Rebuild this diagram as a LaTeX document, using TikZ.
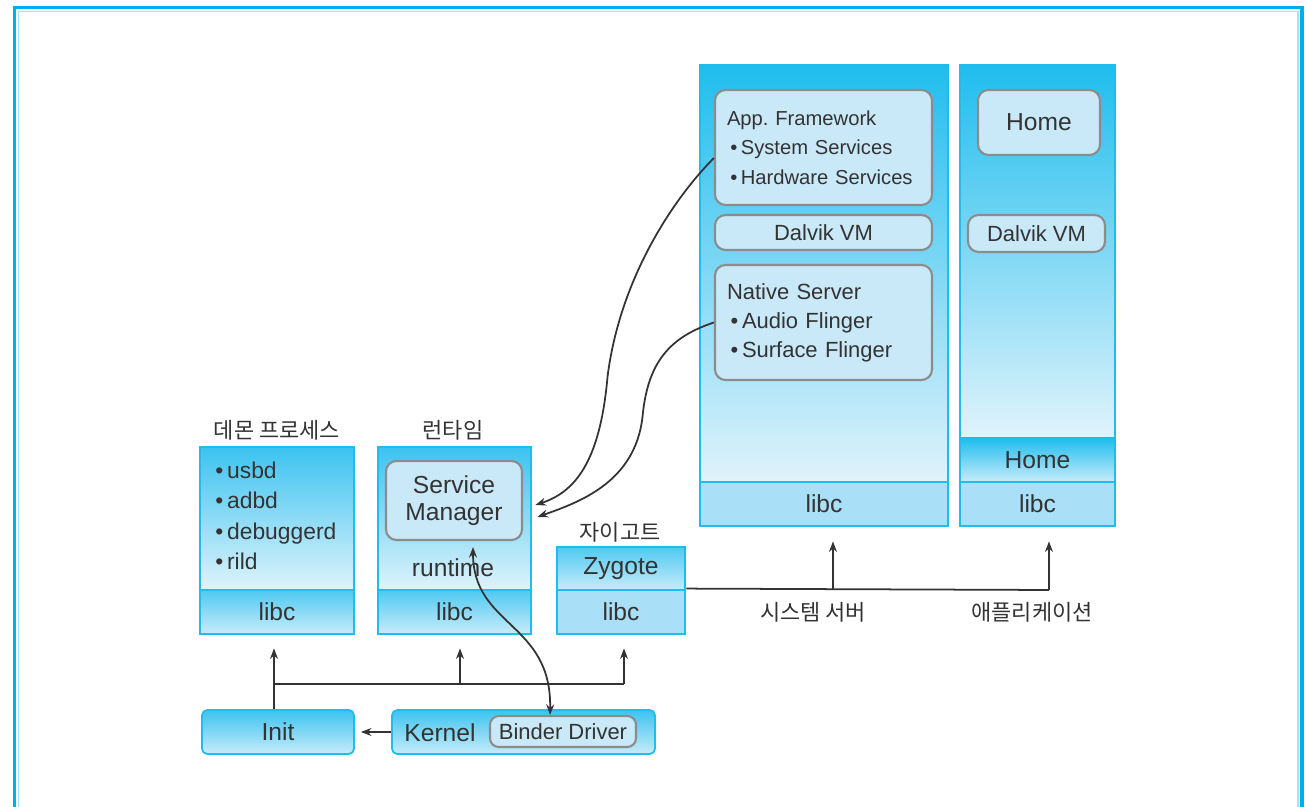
\documentclass[tikz,border=0pt]{standalone}
\usepackage{fontspec}
\setmainfont{Liberation Sans}
\newfontfamily\kr{Noto Sans CJK KR}
\usetikzlibrary{arrows.meta, positioning, calc}
\definecolor{c1}{HTML}{333333}
\definecolor{c2}{HTML}{00AEEF}
\definecolor{c3}{HTML}{1FBDEE}
\definecolor{c4}{HTML}{3CC3F0}
\definecolor{c5}{HTML}{E0F3FB}
\definecolor{c6}{HTML}{A9DFF7}
\definecolor{c7}{HTML}{C9E9F8}
\definecolor{c8}{HTML}{8C8C8C}

\begin{document}
\begin{tikzpicture}[
    every node/.style={font=\fontsize{14}{16}\selectfont, text=c1},
    lab/.style={font=\kr\fontsize{12.5}{14}\selectfont, text=c1},
    edge/.style={rectangle, draw=c3, line width=1.6pt, inner sep=0pt},
    tier/.style={edge, top color=c4, bottom color=c5},
    band/.style={edge, top color=c4!90, bottom color=c5!85!c4},
    flat/.style={edge, fill=c6},
    inbox/.style={rectangle, rounded corners=6pt, draw=c8, line width=1.2pt,
                  fill=c7, inner sep=0pt},
    kbox/.style={rectangle, rounded corners=3pt, draw=c3, line width=1pt,
                 top color=c4, bottom color=c5!85!c4, inner sep=0pt},
    arr/.style={-{Stealth[length=6pt, width=4.5pt]}, line width=1pt, color=c1},
    wire/.style={line width=1pt, color=c1},
]
\useasboundingbox (0,0) rectangle (26.14,16.14);

% outer frame, open at the bottom
\draw[c2, line width=2pt] (0.29,-1) -- (0.29,15.99) -- (26.04,15.99) -- (26.04,-1);
\draw[c2!35, line width=0.8pt] (0.37,-1) -- (0.37,15.91) -- (25.96,15.91) -- (25.96,-1);

% ================================================== daemons
\node[tier, minimum width=3.08cm, minimum height=2.86cm] (dtop) at (5.54,5.77) {};
\node[band, minimum width=3.08cm, minimum height=0.88cm] (dlibc) at (5.54,3.90) {libc};
\node[lab] (dlab) at (5.54,7.54) {데몬 프로세스};
\node[anchor=west, align=left, inner sep=0pt, font=\fontsize{13}{17.3}\selectfont]
     (dlist) at (4.30,5.82)
     {\textbullet\,usbd\\ \textbullet\,adbd\\ \textbullet\,debuggerd\\ \textbullet\,rild};

% ================================================== runtime
\node[tier, minimum width=3.06cm, minimum height=2.86cm] (rtop) at (9.09,5.77) {};
\node[band, minimum width=3.06cm, minimum height=0.88cm] (rlibc) at (9.09,3.90) {libc};
\node[lab] (rlab) at (9.06,7.54) {런타임};
\node[inbox, minimum width=2.72cm, minimum height=1.58cm, align=center,
      font=\fontsize{14}{15.5}\selectfont] (svcmgr) at (9.08,6.13) {Service\\ Manager};
\node (rtname) at (9.06,4.78) {runtime};

% ================================================== zygote
\node[band, minimum width=2.56cm, minimum height=0.86cm] (ztop) at (12.42,4.77) {Zygote};
\node[flat, minimum width=2.56cm, minimum height=0.88cm] (zlibc) at (12.42,3.90) {libc};
\node[lab] (zlab) at (12.40,5.50) {자이고트};

% ================================================== system server
\node[tier, top color=c3, minimum width=4.96cm, minimum height=8.34cm] (stop) at (16.48,10.67) {};
\node[flat, minimum width=4.96cm, minimum height=0.88cm] (slibc) at (16.48,6.06) {libc};
\node[inbox, minimum width=4.34cm, minimum height=2.30cm, align=left, text width=3.86cm,
      font=\fontsize{11.5}{16.7}\selectfont] (appfw) at (16.47,13.19)
     {\mbox{App.\ Framework}\\ \mbox{\,\textbullet\,System Services}\\ \mbox{\,\textbullet\,Hardware Services}};
\node[inbox, minimum width=4.34cm, minimum height=0.70cm,
      font=\fontsize{12.5}{14}\selectfont] (sdvm) at (16.47,11.49) {Dalvik VM};
\node[inbox, minimum width=4.34cm, minimum height=2.30cm, align=left, text width=3.86cm,
      font=\fontsize{12.5}{16.5}\selectfont] (native) at (16.47,9.69)
     {\mbox{Native Server}\\ \mbox{\,\textbullet\,Audio Flinger}\\ \mbox{\,\textbullet\,Surface Flinger}};
\node[lab] (slab) at (16.26,3.90) {시스템 서버};

% ================================================== application
\node[tier, top color=c3, minimum width=3.10cm, minimum height=7.46cm] (atop) at (20.75,11.11) {};
\node[band, top color=c3, minimum width=3.10cm, minimum height=0.88cm] (ahome) at (20.75,6.94) {Home};
\node[flat, minimum width=3.10cm, minimum height=0.88cm] (alibc) at (20.75,6.06) {libc};
\node[inbox, minimum width=2.44cm, minimum height=1.30cm] (home) at (20.78,13.69) {Home};
\node[inbox, minimum width=2.74cm, minimum height=0.74cm,
      font=\fontsize{12.5}{14}\selectfont] (advm) at (20.73,11.47) {Dalvik VM};
\node[lab] (alab) at (20.64,3.90) {애플리케이션};

% ================================================== init and kernel
\node[kbox, minimum width=3.04cm, minimum height=0.88cm] (init) at (5.56,1.50) {Init};
\node[kbox, minimum width=5.26cm, minimum height=0.88cm] (kernel) at (10.47,1.50) {};
\node (ktxt) at (8.80,1.48) {Kernel};
\node[inbox, rounded corners=5pt, minimum width=2.92cm, minimum height=0.62cm,
      font=\fontsize{12.5}{14}\selectfont] (binder) at (11.26,1.51) {Binder Driver};

% ================================================== connectors
\draw[arr, shorten >=0.12cm] (kernel.west) -- (init.east);

\coordinate (bus) at (12.48,2.46);
\coordinate (tapr) at (9.20,2.46);
\draw[arr, shorten >=0.26cm] ([xshift=-0.08cm]init.north) -- ([xshift=-0.08cm]init.north |- dlibc.south);
\draw[wire] ([xshift=-0.08cm]init.north |- bus) -- (bus);
\draw[arr, shorten >=0.26cm] (tapr) -- (tapr |- rlibc.south);
\draw[arr, shorten >=0.26cm] (bus) -- (bus |- zlibc.south);

\coordinate (taps) at (16.66,4.34);
\coordinate (tapa) at (20.98,4.34);
\draw[wire] (zlibc.north east) -- (tapa);
\draw[arr, shorten >=0.28cm] (taps) -- (taps |- slibc.south);
\draw[arr, shorten >=0.28cm] (tapa) -- (tapa |- alibc.south);

% binder calls
\draw[arr, {Stealth[length=6pt, width=4.5pt]}-{Stealth[length=6pt, width=4.5pt]}]
     ([xshift=0.38cm, yshift=-0.12cm]svcmgr.south)
     .. controls (9.46,3.6) and (11.04,3.7) .. ([xshift=-0.26cm]binder.north);
\draw[arr] ([yshift=-0.21cm]appfw.west)
     .. controls (13.5,12.2) and (12.4,10.6) .. (12.15,8.6)
     .. controls (12.0,6.9) and (11.5,6.3) .. ([yshift=0.27cm, xshift=0.06cm]rtop.east);
\draw[arr] (native.west)
     .. controls (13.4,9.4) and (12.95,8.9) .. (12.85,7.8)
     .. controls (12.7,6.5) and (11.6,6.1) .. ([yshift=0.03cm, xshift=0.1cm]rtop.east);

\end{tikzpicture}
\end{document}
